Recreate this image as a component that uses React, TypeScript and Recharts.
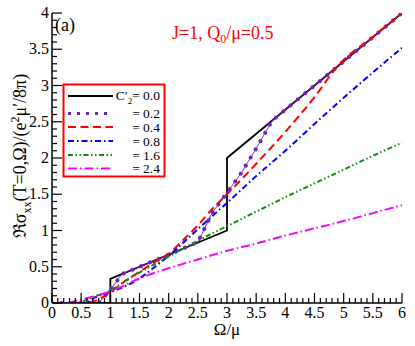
import { LineChart, Line, XAxis, YAxis } from "recharts"

// C2' = 0.0 (sharp steps at Omega/mu = 1 and 3)
const xBlack = [0, 1, 1, 3, 3, 6]
const yBlack = [0, 0, 0.333, 1.0, 2.0, 4.0]

// C2' = 0.2
const xPurple = [0, 0.8, 1, 1.2, 1.5, 2, 2.5, 2.75, 3, 3.25, 3.5, 3.77, 4, 4.5, 5, 5.5, 6]
const yPurple = [0, 0, 0.18, 0.4, 0.5, 0.667, 0.84, 1.25, 1.52, 1.8, 2.13, 2.51, 2.667, 3.0, 3.333, 3.667, 4.0]

// C2' = 0.4
const xRed = [0, 0.6, 0.8, 1, 1.25, 1.5, 1.75, 2, 2.25, 2.5, 2.75, 3, 3.5, 4, 4.5, 4.9, 5.5, 6]
const yRed = [0, 0, 0.05, 0.15, 0.3, 0.43, 0.56, 0.68, 0.87, 1.07, 1.3, 1.5, 1.92, 2.36, 2.84, 3.27, 3.67, 4.0]

// C2' = 0.8
const xBlue = [0, 0.55, 0.75, 1, 1.25, 1.5, 1.75, 2, 2.25, 2.5, 3, 3.5, 4, 4.5, 5, 5.5, 6]
const yBlue = [0, 0, 0.08, 0.15, 0.23, 0.34, 0.49, 0.65, 0.83, 1.02, 1.38, 1.75, 2.1, 2.47, 2.83, 3.18, 3.52]

// C2' = 1.6
const xGreen = [0, 0.4, 0.7, 1, 1.25, 1.5, 2, 2.5, 3, 3.5, 4, 4.5, 5, 5.5, 6]
const yGreen = [0, 0, 0.08, 0.17, 0.3, 0.42, 0.64, 0.86, 1.06, 1.26, 1.46, 1.65, 1.84, 2.03, 2.21]

// C2' = 2.4
const xMagenta = [0, 0.2, 0.5, 1, 1.5, 2, 2.5, 3, 3.5, 4, 4.5, 5, 5.5, 6]
const yMagenta = [0, 0, 0.05, 0.16, 0.34, 0.48, 0.6, 0.72, 0.82, 0.93, 1.03, 1.13, 1.24, 1.35]

const legendLabels = ["= 0.2", "= 0.4", "= 0.8", "= 1.6", "= 2.4"]

const xMajor = [0, 0.5, 1, 1.5, 2, 2.5, 3, 3.5, 4, 4.5, 5, 5.5, 6]
const yMajor = [0, 0.5, 1, 1.5, 2, 2.5, 3, 3.5, 4]

const FONT = "'Times New Roman', 'Liberation Serif', serif"
const txt = { fontFamily: FONT }

const toPoints = (xs: number[], ys: number[]) => xs.map((x, i) => ({ x, y: ys[i] }))

// minor ticks every 0.1 between the majors
const withMinor = (major: number[]) => {
  const out: number[] = []
  const last = major[major.length - 1]
  for (let i = 0; i <= Math.round(last * 10); i++) out.push(i / 10)
  return out
}
const isMajor = (v: number) => Math.abs(v * 2 - Math.round(v * 2)) < 1e-6

const series = [
  { key: "red", data: toPoints(xRed, yRed), stroke: "#ff0000", dash: "8 4.5" },
  { key: "blue", data: toPoints(xBlue, yBlue), stroke: "#0000ff", dash: "6 3 1.5 3" },
  { key: "green", data: toPoints(xGreen, yGreen), stroke: "#0a8f0a", dash: "5 2.5 1.5 2.5 1.5 2.5" },
  { key: "magenta", data: toPoints(xMagenta, yMagenta), stroke: "#ff00ff", dash: "9 3 1.5 3" },
]

const BottomTick = (props: any) => {
  const { x, y, payload } = props
  const major = isMajor(payload.value)
  return (
    <g>
      <line x1={x} x2={x} y1={y} y2={y - (major ? 10 : 5)} stroke="#000" strokeWidth={1.2} />
      {major && (
        <text x={x} y={y + 15} textAnchor="middle" style={txt} fontSize={16} fill="#000">
          {String(payload.value)}
        </text>
      )}
    </g>
  )
}

const TopTick = (props: any) => {
  const { x, y, payload } = props
  const major = isMajor(payload.value)
  return <line x1={x} x2={x} y1={y} y2={y + (major ? 10 : 5)} stroke="#000" strokeWidth={1.2} />
}

const LeftTick = (props: any) => {
  const { x, y, payload } = props
  const major = isMajor(payload.value)
  return (
    <g>
      <line x1={x} x2={x + (major ? 10 : 5)} y1={y} y2={y} stroke="#000" strokeWidth={1.2} />
      {major && (
        <text x={x - 3} y={y + 5} textAnchor="end" style={txt} fontSize={16} fill="#000">
          {String(payload.value)}
        </text>
      )}
    </g>
  )
}

const RightTick = (props: any) => {
  const { x, y, payload } = props
  const major = isMajor(payload.value)
  return <line x1={x} x2={x - (major ? 10 : 5)} y1={y} y2={y} stroke="#000" strokeWidth={1.2} />
}

function Overlay() {
  const rows = [113.5, 127, 141, 155, 168.5]
  const legendStyles = [
    { stroke: "#7221bc", dash: "3 6", width: 3 },
    { stroke: "#ff0000", dash: "8 4.5", width: 2 },
    { stroke: "#0000ff", dash: "6 3 1.5 3", width: 2 },
    { stroke: "#0a8f0a", dash: "5 2.5 1.5 2.5 1.5 2.5", width: 2 },
    { stroke: "#ff00ff", dash: "9 3 1.5 3", width: 2 },
  ]
  return (
    <svg width={415} height={346} style={{ position: "absolute", left: 0, top: 0, pointerEvents: "none" }}>
      <text x={55} y={31} style={txt} fontSize={18} fill="#000">(a)</text>
      <text x={172} y={39} style={txt} fontSize={18} fill="#ff0000">
        J=1, Q<tspan fontSize={12} dy={4}>0</tspan>
        <tspan dy={-4}>/μ=0.5</tspan>
      </text>
      <text x={227} y={335} textAnchor="middle" style={txt} fontSize={17} fill="#000">Ω/μ</text>
      <text transform="translate(26,156) rotate(-90)" textAnchor="middle" style={txt} fontSize={18} fill="#000">
        ℜσ<tspan fontSize={12} dy={5}>xx</tspan>
        <tspan dy={-5}>(T=0,Ω)/(e</tspan>
        <tspan fontSize={12} dy={-7}>2</tspan>
        <tspan dy={7}>μ′/8π)</tspan>
      </text>

      <rect x={63.5} y={84.5} width={101} height={92} fill="#fff" stroke="#ff0000" strokeWidth={2} />
      <line x1={68} x2={113} y1={96} y2={96} stroke="#000" strokeWidth={2} />
      <text x={160} y={100} textAnchor="end" style={txt} fontSize={13.5} fill="#000">
        C′<tspan fontSize={9} dy={4}>2</tspan>
        <tspan dy={-4}>= 0.0</tspan>
      </text>
      {rows.map((ry, i) => (
        <g key={legendLabels[i]}>
          <line
            x1={68}
            x2={113}
            y1={ry}
            y2={ry}
            stroke={legendStyles[i].stroke}
            strokeWidth={legendStyles[i].width}
            strokeDasharray={legendStyles[i].dash}
          />
          <text x={160} y={ry + 4.5} textAnchor="end" style={txt} fontSize={13.5} fill="#000">
            {legendLabels[i]}
          </text>
        </g>
      ))}
    </svg>
  )
}

export default function App() {
  const xTicks = withMinor(xMajor)
  const yTicks = withMinor(yMajor)
  return (
    <div style={{ position: "absolute", left: 0, top: 0, width: 415, height: 346, background: "#fff" }}>
      <LineChart width={415} height={346} margin={{ top: 13, right: 13, bottom: 0, left: 12 }}>
        <XAxis
          xAxisId="b"
          dataKey="x"
          type="number"
          domain={[0, 6]}
          ticks={xTicks}
          interval={0}
          height={43}
          tickSize={0}
          tickMargin={0}
          tickLine={false}
          tick={<BottomTick />}
          axisLine={{ stroke: "#000", strokeWidth: 1.5 }}
          allowDataOverflow
        />
        <XAxis
          xAxisId="t"
          orientation="top"
          dataKey="x"
          type="number"
          domain={[0, 6]}
          ticks={xTicks}
          interval={0}
          height={0}
          tickSize={0}
          tickMargin={0}
          tickLine={false}
          tick={<TopTick />}
          axisLine={{ stroke: "#000", strokeWidth: 1.5 }}
          allowDataOverflow
        />
        <YAxis
          yAxisId="l"
          type="number"
          domain={[0, 4]}
          ticks={yTicks}
          interval={0}
          width={40}
          tickSize={0}
          tickMargin={0}
          tickLine={false}
          tick={<LeftTick />}
          axisLine={{ stroke: "#000", strokeWidth: 1.5 }}
          allowDataOverflow
        />
        <YAxis
          yAxisId="r"
          orientation="right"
          type="number"
          domain={[0, 4]}
          ticks={yTicks}
          interval={0}
          width={0}
          tickSize={0}
          tickMargin={0}
          tickLine={false}
          tick={<RightTick />}
          axisLine={{ stroke: "#000", strokeWidth: 1.5 }}
          allowDataOverflow
        />
        <Line
          xAxisId="b"
          yAxisId="l"
          data={toPoints(xBlack, yBlack)}
          dataKey="y"
          type="linear"
          stroke="#000"
          strokeWidth={1.8}
          dot={false}
          isAnimationActive={false}
        />
        <Line
          xAxisId="b"
          yAxisId="l"
          data={toPoints(xPurple, yPurple)}
          dataKey="y"
          type="linear"
          stroke="#7221bc"
          strokeWidth={0.9}
          dot={false}
          isAnimationActive={false}
        />
        <Line
          xAxisId="b"
          yAxisId="l"
          data={toPoints(xPurple, yPurple)}
          dataKey="y"
          type="linear"
          stroke="#7221bc"
          strokeWidth={4}
          strokeLinecap="round"
          strokeDasharray="0.01 9.5"
          dot={false}
          isAnimationActive={false}
        />
        {series.map((s) => (
          <Line
            key={s.key}
            xAxisId="b"
            yAxisId="l"
            data={s.data}
            dataKey="y"
            type="monotone"
            stroke={s.stroke}
            strokeWidth={2}
            strokeDasharray={s.dash}
            dot={false}
            isAnimationActive={false}
          />
        ))}
      </LineChart>
      <Overlay />
    </div>
  )
}
